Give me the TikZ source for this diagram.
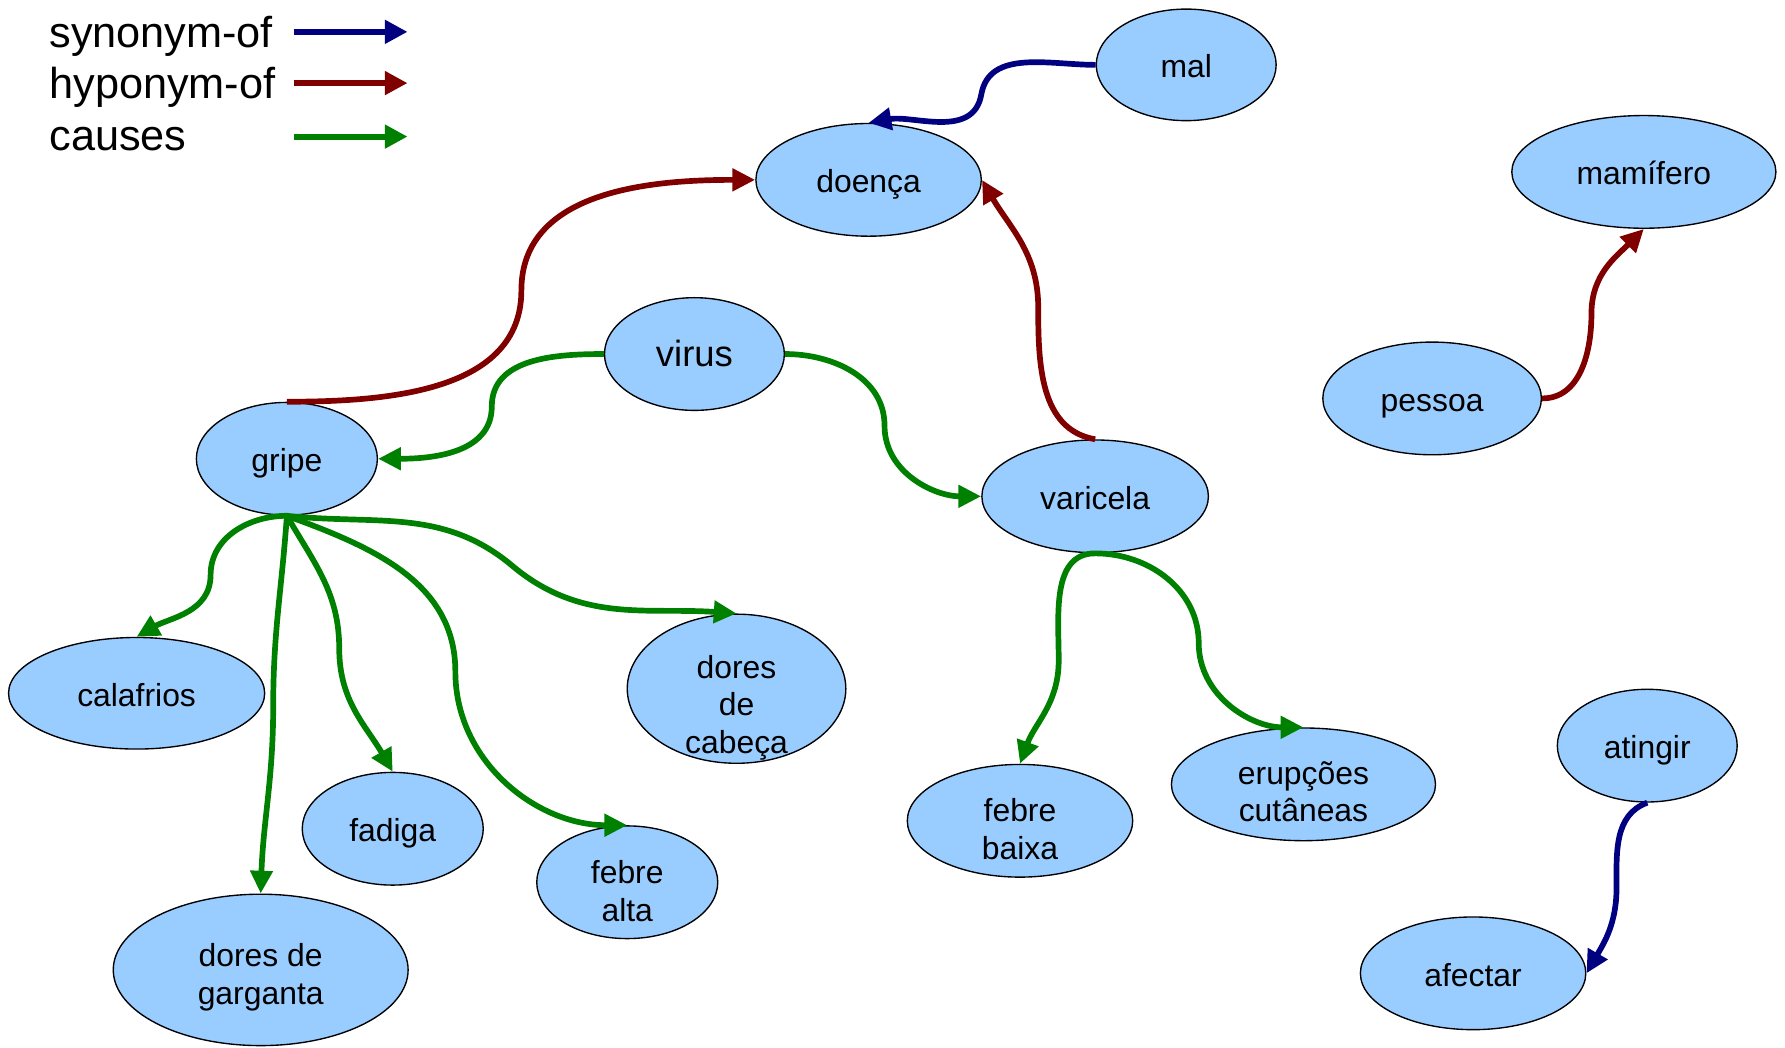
\documentclass[tikz,border=0pt]{standalone}
\usepackage{fontspec}
\setmainfont{Liberation Sans}
\usetikzlibrary{shapes.geometric,arrows.meta}
\definecolor{syn}{RGB}{0,0,128}
\definecolor{hyp}{RGB}{128,0,0}
\definecolor{cau}{RGB}{0,128,0}
\definecolor{nodefill}{RGB}{153,204,255}
% first baseline raised by #1 relative to the node centre, lines 16.5pt apart
\newcommand\ctext[2]{\raisebox{#1}[0pt][0pt]{\begin{tabular}[t]{@{}c@{}}#2\end{tabular}}}
\tikzset{
  concept/.style={ellipse,draw=black,line width=0.6pt,fill=nodefill,inner sep=0pt,
    font=\fontsize{14}{16.5}\selectfont},
  rel/.style={line width=2.5pt,-{Triangle[length=10pt,width=9.5pt]}},
  synrel/.style={rel,draw=syn,color=syn},
  hyprel/.style={rel,draw=hyp,color=hyp},
  caurel/.style={rel,draw=cau,color=cau},
  legtext/.style={anchor=west,inner sep=0pt,font=\fontsize{19}{21}\selectfont},
  legarrow/.style={line width=2.7pt,-{Triangle[length=10pt,width=10pt]}}
}
\begin{document}
\begin{tikzpicture}[x=0.5pt,y=0.5pt]
\useasboundingbox (0,0) rectangle (1568,920);
% legend
\node[legtext] (lsyn) at (43,888) {synonym-of};
\node[legtext] (lhyp) at (43,843) {hyponym-of};
\node[legtext] (lcau) at (43,798) {causes};
\coordinate (s1) at (258,892); \coordinate (e1) at (358,892);
\coordinate (s2) at (258,847); \coordinate (e2) at (358,847);
\coordinate (s3) at (258,800); \coordinate (e3) at (358,800);
\draw[legarrow,draw=syn,color=syn] (s1) -- (e1);
\draw[legarrow,draw=hyp,color=hyp] (s2) -- (e2);
\draw[legarrow,draw=cau,color=cau] (s3) -- (e3);
% nodes
\node[concept,minimum width=79pt,minimum height=49pt] (mal) at (1042,863) {\ctext{-5.6pt}{mal}};
\node[concept,minimum width=99pt,minimum height=49.5pt] (doenca) at (763,762) {\ctext{-5.6pt}{doença}};
\node[concept,minimum width=116pt,minimum height=49.5pt] (mamifero) at (1444,769) {\ctext{-5.6pt}{mamífero}};
\node[concept,minimum width=79pt,minimum height=49.5pt,font=\fontsize{16}{18}\selectfont] (virus) at (610,609) {\ctext{-5.6pt}{virus}};
\node[concept,minimum width=96pt,minimum height=49.5pt] (pessoa) at (1258,570) {\ctext{-5.6pt}{pessoa}};
\node[concept,minimum width=79.5pt,minimum height=49.5pt] (gripe) at (252,517) {\ctext{-5.6pt}{gripe}};
\node[concept,minimum width=99.5pt,minimum height=49.5pt] (varicela) at (962,484) {\ctext{-5.6pt}{varicela}};
\node[concept,minimum width=112.5pt,minimum height=49pt] (calafrios) at (120,311) {\ctext{-5.6pt}{calafrios}};
\node[concept,minimum width=96pt,minimum height=65.5pt] (cabeca) at (647,315) {\ctext{4.6pt}{dores\\de\\cabeça}};
\node[concept,minimum width=79pt,minimum height=49.5pt] (atingir) at (1447,265) {\ctext{-5.6pt}{atingir}};
\node[concept,minimum width=116pt,minimum height=49.5pt] (erupcoes) at (1145,231) {\ctext{0pt}{erupções\\cutâneas}};
\node[concept,minimum width=79.5pt,minimum height=49.5pt] (fadiga) at (345,192) {\ctext{-5.6pt}{fadiga}};
\node[concept,minimum width=99pt,minimum height=49.5pt] (febrebaixa) at (896,199) {\ctext{-0.5pt}{febre\\baixa}};
\node[concept,minimum width=79.5pt,minimum height=49.5pt] (febrealta) at (551,145) {\ctext{-0.6pt}{febre\\alta}};
\node[concept,minimum width=129.5pt,minimum height=66.5pt] (garganta) at (229,68) {\ctext{1.5pt}{dores de\\garganta}};
\node[concept,minimum width=99pt,minimum height=49.5pt] (afectar) at (1294,65) {\ctext{-5.6pt}{afectar}};
% synonym-of
\draw[synrel] (mal.west) to[out=180,in=80] (862,837) to[out=260,in=10] (doenca.north);
\draw[synrel] (atingir.south) to[out=200,in=90] (1420,140) to[out=270,in=60] (afectar.east);
% hyponym-of
\draw[hyprel] (gripe.north) to[out=0,in=270] (458,665) to[out=90,in=180] (doenca.west);
\draw[hyprel] (varicela.north) to[out=170,in=270] (912,650) to[out=90,in=300] (doenca.east);
\draw[hyprel] (pessoa.east) to[out=0,in=270] (1398,645) to[out=90,in=225] (mamifero.south);
% causes
\draw[caurel] (virus.west) to[out=180,in=90] (432,563) to[out=270,in=0] (gripe.east);
\draw[caurel] (virus.east) to[out=0,in=90] (777,546) to[out=270,in=180] (varicela.west);
\draw[caurel] (gripe.south) to[out=180,in=90] (185,415) to[out=270,in=30] (calafrios.north);
\draw[caurel] (gripe.south) to[out=266,in=90] (240,300) to[out=270,in=88] (garganta.north);
\draw[caurel] (gripe.south) to[out=-60,in=90] (298,350) to[out=270,in=120] (fadiga.north);
\draw[caurel] (gripe.south) to[out=-20,in=90] (400,330) to[out=270,in=180] (febrealta.north);
\draw[caurel] (gripe.south) to[out=-6,in=140] (450,423) to[out=-40,in=176] (cabeca.north);
\draw[caurel] (varicela.south) to[out=180,in=90] (930,340) to[out=270,in=70] (febrebaixa.north);
\draw[caurel] (varicela.south) to[out=0,in=90] (1053,355) to[out=270,in=180] (erupcoes.north);
\end{tikzpicture}
\end{document}
